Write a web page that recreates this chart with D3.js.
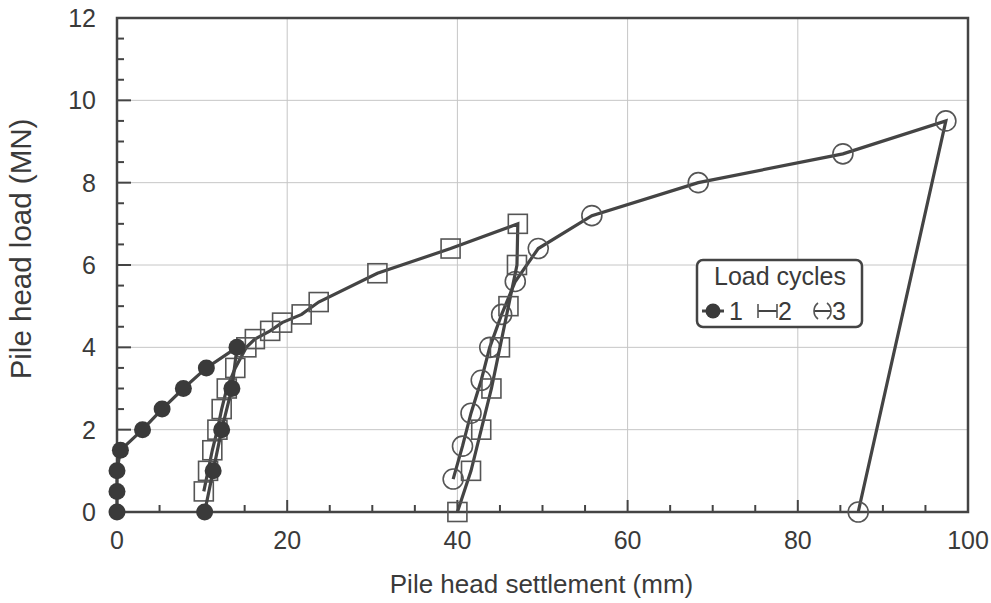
<!DOCTYPE html>
<html>
<head>
<meta charset="utf-8">
<script src="https://cdn.jsdelivr.net/npm/d3@7"></script>
<style>
  html, body { margin: 0; padding: 0; background: #ffffff; }
  svg { display: block; font-family: "Liberation Sans", Arial, sans-serif; }
</style>
</head>
<body>
<svg id="chart" width="991" height="603"></svg>
<script>
// ---- data ----
const xTicks = [0, 20, 40, 60, 80, 100];
const yTicks = [0, 2, 4, 6, 8, 10, 12];
const xLabel = "Pile head settlement (mm)";
const yLabel = "Pile head load (MN)";
const legendTitle = "Load cycles";
const cycleNames = ["1", "2", "3"];

// cycle 1 (filled circles)
const c1Settlement = [0, 0, 0, 0.4, 3.0, 5.3, 7.8, 10.5, 14.1, 13.5, 12.3, 11.3, 10.3];
const c1Load       = [0, 0.5, 1.0, 1.5, 2.0, 2.5, 3.0, 3.5, 4.0, 3.0, 2.0, 1.0, 0];
// cycle 2 (open squares)
const c2Settlement = [10.2, 10.7, 11.2, 11.8, 12.3, 12.9, 13.9, 15.2, 16.2, 18.0, 19.4, 21.7, 23.7, 30.6, 39.2, 47.1, 47.0, 46.0, 45.0, 44.0, 42.8, 41.6, 40.0];
const c2Load       = [0.5, 1.0, 1.5, 2.0, 2.5, 3.0, 3.5, 4.0, 4.2, 4.4, 4.6, 4.8, 5.1, 5.8, 6.4, 7.0, 6.0, 5.0, 4.0, 3.0, 2.0, 1.0, 0];
// cycle 3 (open circles)
const c3Settlement = [39.5, 40.6, 41.6, 42.8, 43.8, 45.2, 46.8, 49.5, 55.8, 68.3, 85.3, 97.4, 87.1];
const c3Load       = [0.8, 1.6, 2.4, 3.2, 4.0, 4.8, 5.6, 6.4, 7.2, 8.0, 8.7, 9.5, 0];

// ---- layout ----
const W = 991, H = 603;
const m = { left: 117, right: 23, top: 18, bottom: 91 };
const pw = W - m.left - m.right, ph = H - m.top - m.bottom;
const ink = "#444444";
const textInk = "#3a3a3a";

const svg = d3.select("#chart");
const g = svg.append("g").attr("transform", `translate(${m.left},${m.top})`);

const x = d3.scaleLinear().domain([0, 100]).range([0, pw]);
const y = d3.scaleLinear().domain([0, 12]).range([ph, 0]);

// grid
g.append("g").selectAll("line").data(xTicks.filter(d => d > 0 && d < 100)).join("line")
  .attr("x1", d => x(d)).attr("x2", d => x(d)).attr("y1", 0).attr("y2", ph)
  .attr("stroke", "#c6c6c6").attr("stroke-width", 1);
g.append("g").selectAll("line").data(yTicks.filter(d => d > 0 && d < 12)).join("line")
  .attr("y1", d => y(d)).attr("y2", d => y(d)).attr("x1", 0).attr("x2", pw)
  .attr("stroke", "#c6c6c6").attr("stroke-width", 1);

// inward ticks
const xMinor = d3.range(0, 101, 5);
const yMinor = d3.range(0, 12.01, 0.5);
g.append("g").selectAll("line").data(xMinor).join("line")
  .attr("x1", d => x(d)).attr("x2", d => x(d)).attr("y1", ph)
  .attr("y2", d => ph - (d % 20 === 0 ? 12 : 7))
  .attr("stroke", ink).attr("stroke-width", 2);
g.append("g").selectAll("line").data(yMinor).join("line")
  .attr("y1", d => y(d)).attr("y2", d => y(d)).attr("x1", 0)
  .attr("x2", d => (d % 2 === 0 ? 14 : 7))
  .attr("stroke", ink).attr("stroke-width", 2);

// frame
g.append("rect").attr("x", 0).attr("y", 0).attr("width", pw).attr("height", ph)
  .attr("fill", "none").attr("stroke", ink).attr("stroke-width", 2.5);

// tick labels
g.append("g").selectAll("text").data(xTicks).join("text")
  .attr("x", d => x(d)).attr("y", ph + 37).attr("text-anchor", "middle")
  .attr("font-size", 25).attr("fill", textInk).text(d => d);
g.append("g").selectAll("text").data(yTicks).join("text")
  .attr("x", -21).attr("y", d => y(d) + 9).attr("text-anchor", "end")
  .attr("font-size", 25).attr("fill", textInk).text(d => d);

// axis titles
svg.append("text").attr("x", m.left + pw / 2 - 1).attr("y", H - 10)
  .attr("text-anchor", "middle").attr("font-size", 26).attr("fill", textInk).text(xLabel);
svg.append("text").attr("transform", `translate(31,${m.top + ph / 2 - 16}) rotate(-90)`)
  .attr("text-anchor", "middle").attr("font-size", 29.5).attr("fill", textInk).text(yLabel);

// series
const line = d3.line().x(d => x(d[0])).y(d => y(d[1]));
const s1 = d3.zip(c1Settlement, c1Load);
const s2 = d3.zip(c2Settlement, c2Load);
const s3 = d3.zip(c3Settlement, c3Load);

g.append("path").datum(s3).attr("d", line).attr("fill", "none").attr("stroke", ink).attr("stroke-width", 3.2);
g.append("g").selectAll("circle").data(s3).join("circle")
  .attr("cx", d => x(d[0])).attr("cy", d => y(d[1])).attr("r", 10)
  .attr("fill", "none").attr("stroke", "#555").attr("stroke-width", 1.6);

g.append("path").datum(s2).attr("d", line).attr("fill", "none").attr("stroke", ink).attr("stroke-width", 3.2);
g.append("g").selectAll("rect").data(s2).join("rect")
  .attr("x", d => x(d[0]) - 9.5).attr("y", d => y(d[1]) - 9.5).attr("width", 19).attr("height", 19)
  .attr("fill", "none").attr("stroke", "#555").attr("stroke-width", 1.6);

g.append("path").datum(s1).attr("d", line).attr("fill", "none").attr("stroke", ink).attr("stroke-width", 3.2);
g.append("g").selectAll("circle").data(s1).join("circle")
  .attr("cx", d => x(d[0])).attr("cy", d => y(d[1])).attr("r", 8.5)
  .attr("fill", "#3a3a3a").attr("stroke", "none");

// legend
const lg = svg.append("g").attr("transform", "translate(697,260)");
lg.append("rect").attr("width", 165).attr("height", 67).attr("rx", 6)
  .attr("fill", "#fff").attr("stroke", ink).attr("stroke-width", 2.5);
lg.append("text").attr("x", 83).attr("y", 25).attr("text-anchor", "middle")
  .attr("font-size", 25).attr("fill", textInk).text(legendTitle);
const rowY = 51;
// 1
lg.append("line").attr("x1", 5).attr("x2", 27).attr("y1", rowY).attr("y2", rowY).attr("stroke", ink).attr("stroke-width", 3);
lg.append("circle").attr("cx", 16).attr("cy", rowY).attr("r", 7.5).attr("fill", "#3a3a3a");
lg.append("text").attr("x", 32).attr("y", rowY + 9).attr("font-size", 25).attr("fill", textInk).text(cycleNames[0]);
// 2
lg.append("line").attr("x1", 61).attr("x2", 80).attr("y1", rowY).attr("y2", rowY).attr("stroke", ink).attr("stroke-width", 2);
lg.append("line").attr("x1", 61).attr("x2", 61).attr("y1", rowY - 7).attr("y2", rowY + 7).attr("stroke", "#555").attr("stroke-width", 1.6);
lg.append("line").attr("x1", 80).attr("x2", 80).attr("y1", rowY - 7).attr("y2", rowY + 7).attr("stroke", "#555").attr("stroke-width", 1.6);
lg.append("text").attr("x", 81).attr("y", rowY + 9).attr("font-size", 25).attr("fill", textInk).text(cycleNames[1]);
// 3
lg.append("line").attr("x1", 117).attr("x2", 134).attr("y1", rowY).attr("y2", rowY).attr("stroke", ink).attr("stroke-width", 2);
lg.append("path").attr("d", `M121,${rowY - 8} A10,10 0 0 0 121,${rowY + 8}`).attr("fill", "none").attr("stroke", "#555").attr("stroke-width", 1.6);
lg.append("path").attr("d", `M130,${rowY - 8} A10,10 0 0 1 130,${rowY + 8}`).attr("fill", "none").attr("stroke", "#555").attr("stroke-width", 1.6);
lg.append("text").attr("x", 135).attr("y", rowY + 9).attr("font-size", 25).attr("fill", textInk).text(cycleNames[2]);
</script>
</body>
</html>
